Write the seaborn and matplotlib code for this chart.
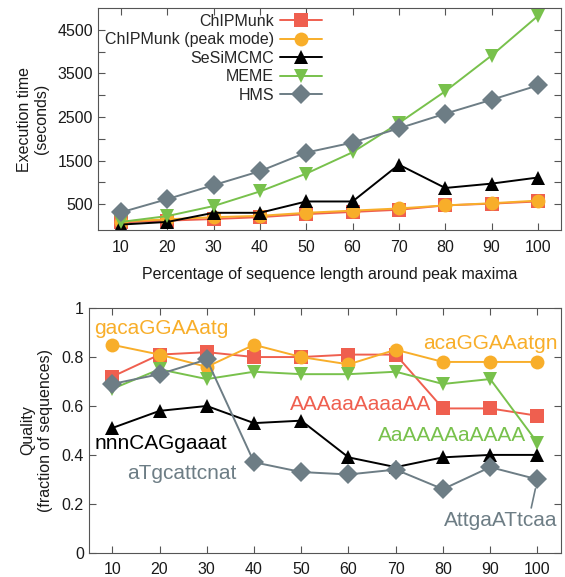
import pandas as pd
import matplotlib
matplotlib.use("Agg")
import matplotlib.pyplot as plt
import seaborn as sns

# data
pct = [10, 20, 30, 40, 50, 60, 70, 80, 90, 100]
methods = ["ChIPMunk", "ChIPMunk (peak mode)", "SeSiMCMC", "MEME", "HMS"]

time_chipmunk = [80, 120, 157, 200, 270, 320, 370, 470, 510, 560]
time_peak = [100, 150, 200, 230, 300, 350, 400, 470, 520, 580]
time_sesimcmc = [30, 90, 300, 300, 560, 560, 1405, 870, 970, 1110]
time_meme = [90, 225, 455, 790, 1200, 1690, 2360, 3090, 3910, 4820]
time_hms = [310, 614, 935, 1255, 1683, 1912, 2240, 2575, 2895, 3225]

qual_chipmunk = [0.72, 0.81, 0.82, 0.80, 0.80, 0.81, 0.81, 0.59, 0.59, 0.56]
qual_peak = [0.85, 0.81, 0.76, 0.85, 0.80, 0.77, 0.83, 0.78, 0.78, 0.78]
qual_sesimcmc = [0.51, 0.58, 0.60, 0.53, 0.54, 0.39, 0.35, 0.39, 0.40, 0.40]
qual_meme = [0.67, 0.75, 0.71, 0.74, 0.73, 0.73, 0.74, 0.69, 0.71, 0.45]
qual_hms = [0.69, 0.73, 0.79, 0.37, 0.33, 0.32, 0.34, 0.26, 0.35, 0.30]

colors = {"ChIPMunk": "#ef5f4f", "ChIPMunk (peak mode)": "#f8ae2a",
          "SeSiMCMC": "#000000", "MEME": "#78c14c", "HMS": "#6d7d85"}
markers = {"ChIPMunk": "s", "ChIPMunk (peak mode)": "o", "SeSiMCMC": "^",
           "MEME": "v", "HMS": "D"}


def long_df(series):
    rows = []
    for m, vals in zip(methods, series):
        for p, v in zip(pct, vals):
            rows.append({"pct": p, "value": v, "method": m})
    return pd.DataFrame(rows)


time_df = long_df([time_chipmunk, time_peak, time_sesimcmc, time_meme, time_hms])
qual_df = long_df([qual_chipmunk, qual_peak, qual_sesimcmc, qual_meme, qual_hms])

sns.set_style("ticks")
plt.rcParams["font.family"] = ["Liberation Sans", "DejaVu Sans"]

fig = plt.figure(figsize=(5.65, 5.77), dpi=100)
ax1 = fig.add_axes([0.173, 0.601, 0.820, 0.385])
ax2 = fig.add_axes([0.157, 0.042, 0.836, 0.424])

for ax, df in [(ax1, time_df), (ax2, qual_df)]:
    sns.lineplot(data=df, x="pct", y="value", hue="method", style="method",
                 hue_order=methods, style_order=methods, palette=colors,
                 markers=markers, dashes=False, markersize=10,
                 markeredgewidth=0, linewidth=1.4, ax=ax,
                 legend=(ax is ax1))
    ax.set_xlim(5, 105)
    ax.set_xticks(pct)
    ax.tick_params(direction="in", top=True, right=True, length=5,
                   labelsize=11.5, color="#555555", labelcolor="#1a1a1a")
    ax.tick_params(axis="x", pad=7)
    for s in ax.spines.values():
        s.set_color("#555555")
        s.set_visible(True)
    ax.set_ylabel("")
    ax.set_xlabel("")

# top panel
ax1.set_ylim(-100, 5000)
yt = [500, 1000, 1500, 2000, 2500, 3000, 3500, 4000, 4500]
ax1.set_yticks(yt)
ax1.set_yticklabels([str(v) if v % 1000 == 500 else "" for v in yt])
ax1.set_xlabel("Percentage of sequence length around peak maxima",
               fontsize=11.5, color="#1a1a1a", labelpad=9)
ax1.set_ylabel("Execution time\n(seconds)", fontsize=11.5, color="#1a1a1a",
               labelpad=6)
handles, labels = ax1.get_legend_handles_labels()
ax1.legend(handles, labels, loc="upper right", bbox_to_anchor=(0.484, 0.975),
           frameon=False, markerfirst=False, fontsize=11.5, borderpad=0,
           borderaxespad=0, handlelength=2.6, labelspacing=0.22,
           handletextpad=0.4)

# bottom panel
ax2.set_ylim(0, 1)
ax2.set_yticks([0, 0.2, 0.4, 0.6, 0.8, 1.0])
ax2.set_yticklabels(["0", "0.2", "0.4", "0.6", "0.8", "1"])
ax2.set_ylabel("Quality\n(fraction of sequences)", fontsize=11.5,
               color="#1a1a1a", labelpad=6)

fs = 15
ax2.text(6.2, 0.918, "gacaGGAAatg", color=colors["ChIPMunk (peak mode)"],
         fontsize=fs, va="center", ha="left")
ax2.text(104.3, 0.857, "acaGGAAatgn", color=colors["ChIPMunk (peak mode)"],
         fontsize=fs, va="center", ha="right")
ax2.text(77.5, 0.607, "AAAaaAaaaAA", color=colors["ChIPMunk"],
         fontsize=fs, va="center", ha="right")
ax2.text(97.6, 0.48, "AaAAAAaAAAA", color=colors["MEME"],
         fontsize=fs, va="center", ha="right")
ax2.text(6.2, 0.447, "nnnCAGgaaat", color=colors["SeSiMCMC"],
         fontsize=fs, va="center", ha="left")
ax2.text(13.2, 0.324, "aTgcattcnat", color=colors["HMS"],
         fontsize=fs, va="center", ha="left")
ax2.annotate("AttgaATtcaa", xy=(100, qual_hms[-1]), xytext=(104.3, 0.131),
             color=colors["HMS"], fontsize=fs, va="center", ha="right",
             arrowprops=dict(arrowstyle="-", color=colors["HMS"], lw=1.2,
                             relpos=(0.76, 1.0), shrinkA=0, shrinkB=7))

fig.savefig("out.png", dpi=100)
